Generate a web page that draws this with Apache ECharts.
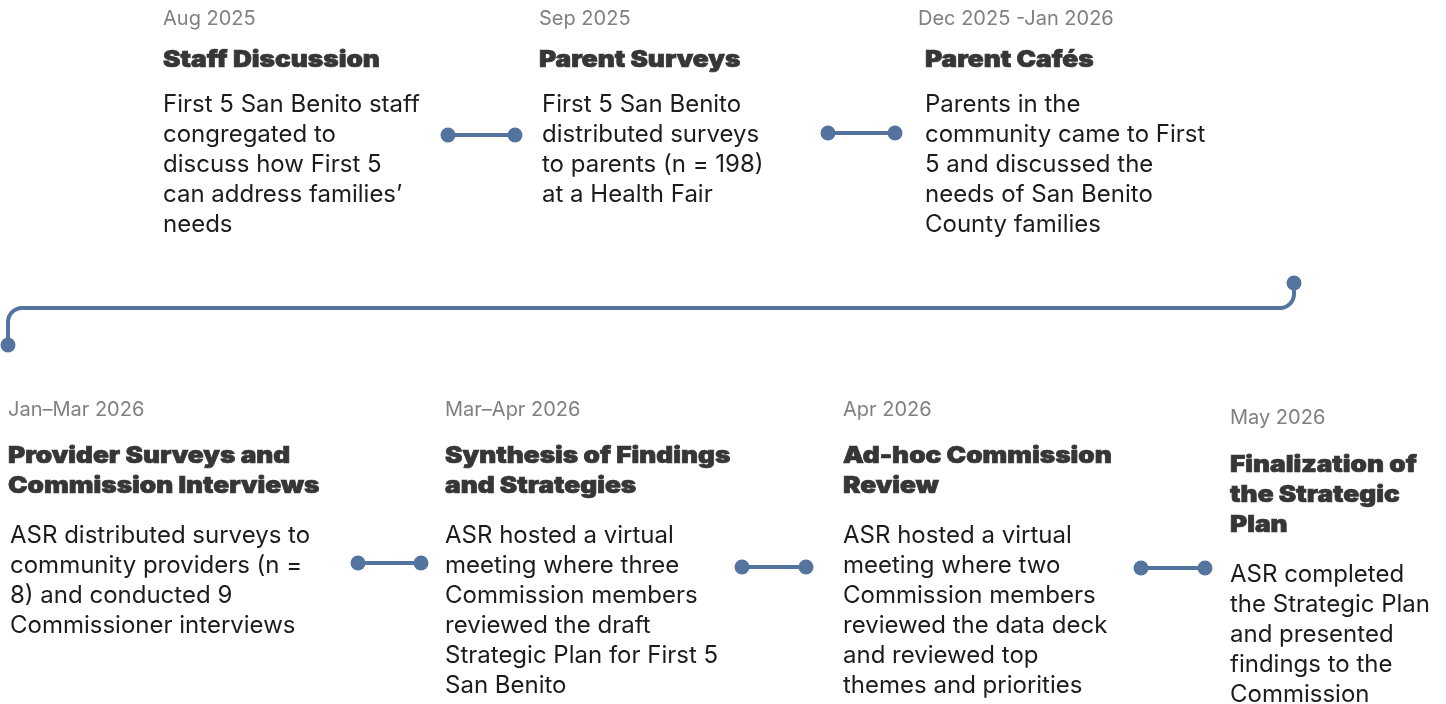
<!DOCTYPE html>
<html><head><meta charset="utf-8">
<script src="https://cdn.jsdelivr.net/npm/echarts@6/dist/echarts.min.js"></script>
<style>html,body{margin:0;padding:0;background:#fff}#c{width:1446px;height:704px}</style>
</head><body><div id="c"></div>
<script>
// ---- content ----
const dates = ["Aug 2025","Sep 2025","Dec 2025 -Jan 2026","Jan–Mar 2026","Mar–Apr 2026","Apr 2026","May 2026"];
const titles = ["Staff Discussion","Parent Surveys","Parent Cafés","Provider Surveys and\nCommission Interviews","Synthesis of Findings\nand Strategies","Ad-hoc Commission\nReview","Finalization of\nthe Strategic\nPlan"];
const descriptions = [
 "First 5 San Benito staff\ncongregated to\ndiscuss how First 5\ncan address families’\nneeds",
 "First 5 San Benito\ndistributed surveys\nto parents (n = 198)\nat a Health Fair",
 "Parents in the\ncommunity came to First\n5 and discussed the\nneeds of San Benito\nCounty families",
 "ASR distributed surveys to\ncommunity providers (n =\n8) and conducted 9\nCommissioner interviews",
 "ASR hosted a virtual\nmeeting where three\nCommission members\nreviewed the draft\nStrategic Plan for First 5\nSan Benito",
 "ASR hosted a virtual\nmeeting where two\nCommission members\nreviewed the data deck\nand reviewed top\nthemes and priorities",
 "ASR completed\nthe Strategic Plan\nand presented\nfindings to the\nCommission"
];

// ---- layout (positions in page units) ----
const eventLayout = [
 {dx:163, tx:163, bx:163, dy:19, ty:60, by:105},
 {dx:539, tx:539, bx:542, dy:19, ty:60, by:105},
 {dx:918, tx:925, bx:925, dy:19, ty:60, by:105},
 {dx:8,   tx:8,   bx:10,  dy:410, ty:456, by:536},
 {dx:445, tx:445, bx:445, dy:410, ty:456, by:536},
 {dx:843, tx:843, bx:843, dy:410, ty:456, by:536},
 {dx:1230,tx:1230,bx:1230,dy:418, ty:465, by:575}
];
const connectors = [[448,135,515,135],[828,133,895,133],[358,563,421,563],[742,567,806,567],[1141,568,1205,568]];
const bigPath = {x1:1294, y1:283, yh:308, x2:8, y2:345, r:14};

const LINE = '#54739f';
const FONT = 'Inter, "Noto Sans", sans-serif';

const chart = echarts.init(document.getElementById('c'), null, {renderer:'canvas'});
chart.setOption({
  animation:false,
  grid:{left:0,right:0,top:0,bottom:0},
  xAxis:{type:'value',min:0,max:1446,show:false},
  yAxis:{type:'value',min:0,max:704,inverse:true,show:false},
  series:[
   {type:'custom', data: dates.map((d,i)=>[i]), silent:true,
    renderItem(params, api){
      const i = params.dataIndex, L = eventLayout[i];
      const pd = api.coord([L.dx, L.dy]), pt = api.coord([L.tx, L.ty-15]), pb = api.coord([L.bx, L.by-15]);
      return {type:'group', children:[
        {type:'text', x:pd[0], y:pd[1], style:{text:dates[i], font:'20px '+FONT, fill:'#808080', verticalAlign:'middle'}},
        {type:'text', x:pt[0], y:pt[1], scaleX:1.14, style:{text:titles[i], font:'900 23px '+FONT, fill:'#363636', stroke:'#363636', lineWidth:0.7, lineHeight:30, verticalAlign:'top'}},
        {type:'text', x:pb[0], y:pb[1], style:{text:descriptions[i], font:'24px '+FONT, fill:'#1c1c1c', lineHeight:30, verticalAlign:'top'}}
      ]};
    }},
   {type:'custom', data: connectors.map((c,i)=>[i]), silent:true,
    renderItem(params, api){
      const c = connectors[params.dataIndex];
      const a = api.coord([c[0],c[1]]), b = api.coord([c[2],c[3]]);
      return {type:'group', children:[
        {type:'line', shape:{x1:a[0],y1:a[1],x2:b[0],y2:b[1]}, style:{stroke:LINE, lineWidth:4}},
        {type:'circle', shape:{cx:a[0],cy:a[1],r:7.5}, style:{fill:LINE}},
        {type:'circle', shape:{cx:b[0],cy:b[1],r:7.5}, style:{fill:LINE}}
      ]};
    }},
   {type:'custom', data:[[0]], silent:true,
    renderItem(params, api){
      const P = bigPath, r = P.r;
      const s = api.coord([P.x1,P.y1]), e = api.coord([P.x2,P.y2]);
      const h = api.coord([0,P.yh])[1];
      const st = {stroke:LINE, lineWidth:4, fill:null};
      return {type:'group', children:[
        {type:'line', shape:{x1:s[0],y1:s[1],x2:s[0],y2:h-r}, style:st},
        {type:'arc', shape:{cx:s[0]-r, cy:h-r, r:r, startAngle:0, endAngle:Math.PI/2, clockwise:true}, style:st},
        {type:'line', shape:{x1:s[0]-r,y1:h,x2:e[0]+r,y2:h}, style:st},
        {type:'arc', shape:{cx:e[0]+r, cy:h+r, r:r, startAngle:Math.PI, endAngle:Math.PI*1.5, clockwise:true}, style:st},
        {type:'line', shape:{x1:e[0],y1:h+r,x2:e[0],y2:e[1]}, style:st},
        {type:'circle', shape:{cx:s[0],cy:s[1],r:7.5}, style:{fill:LINE}},
        {type:'circle', shape:{cx:e[0],cy:e[1],r:7.5}, style:{fill:LINE}}
      ]};
    }}
  ]
});
</script></body></html>
